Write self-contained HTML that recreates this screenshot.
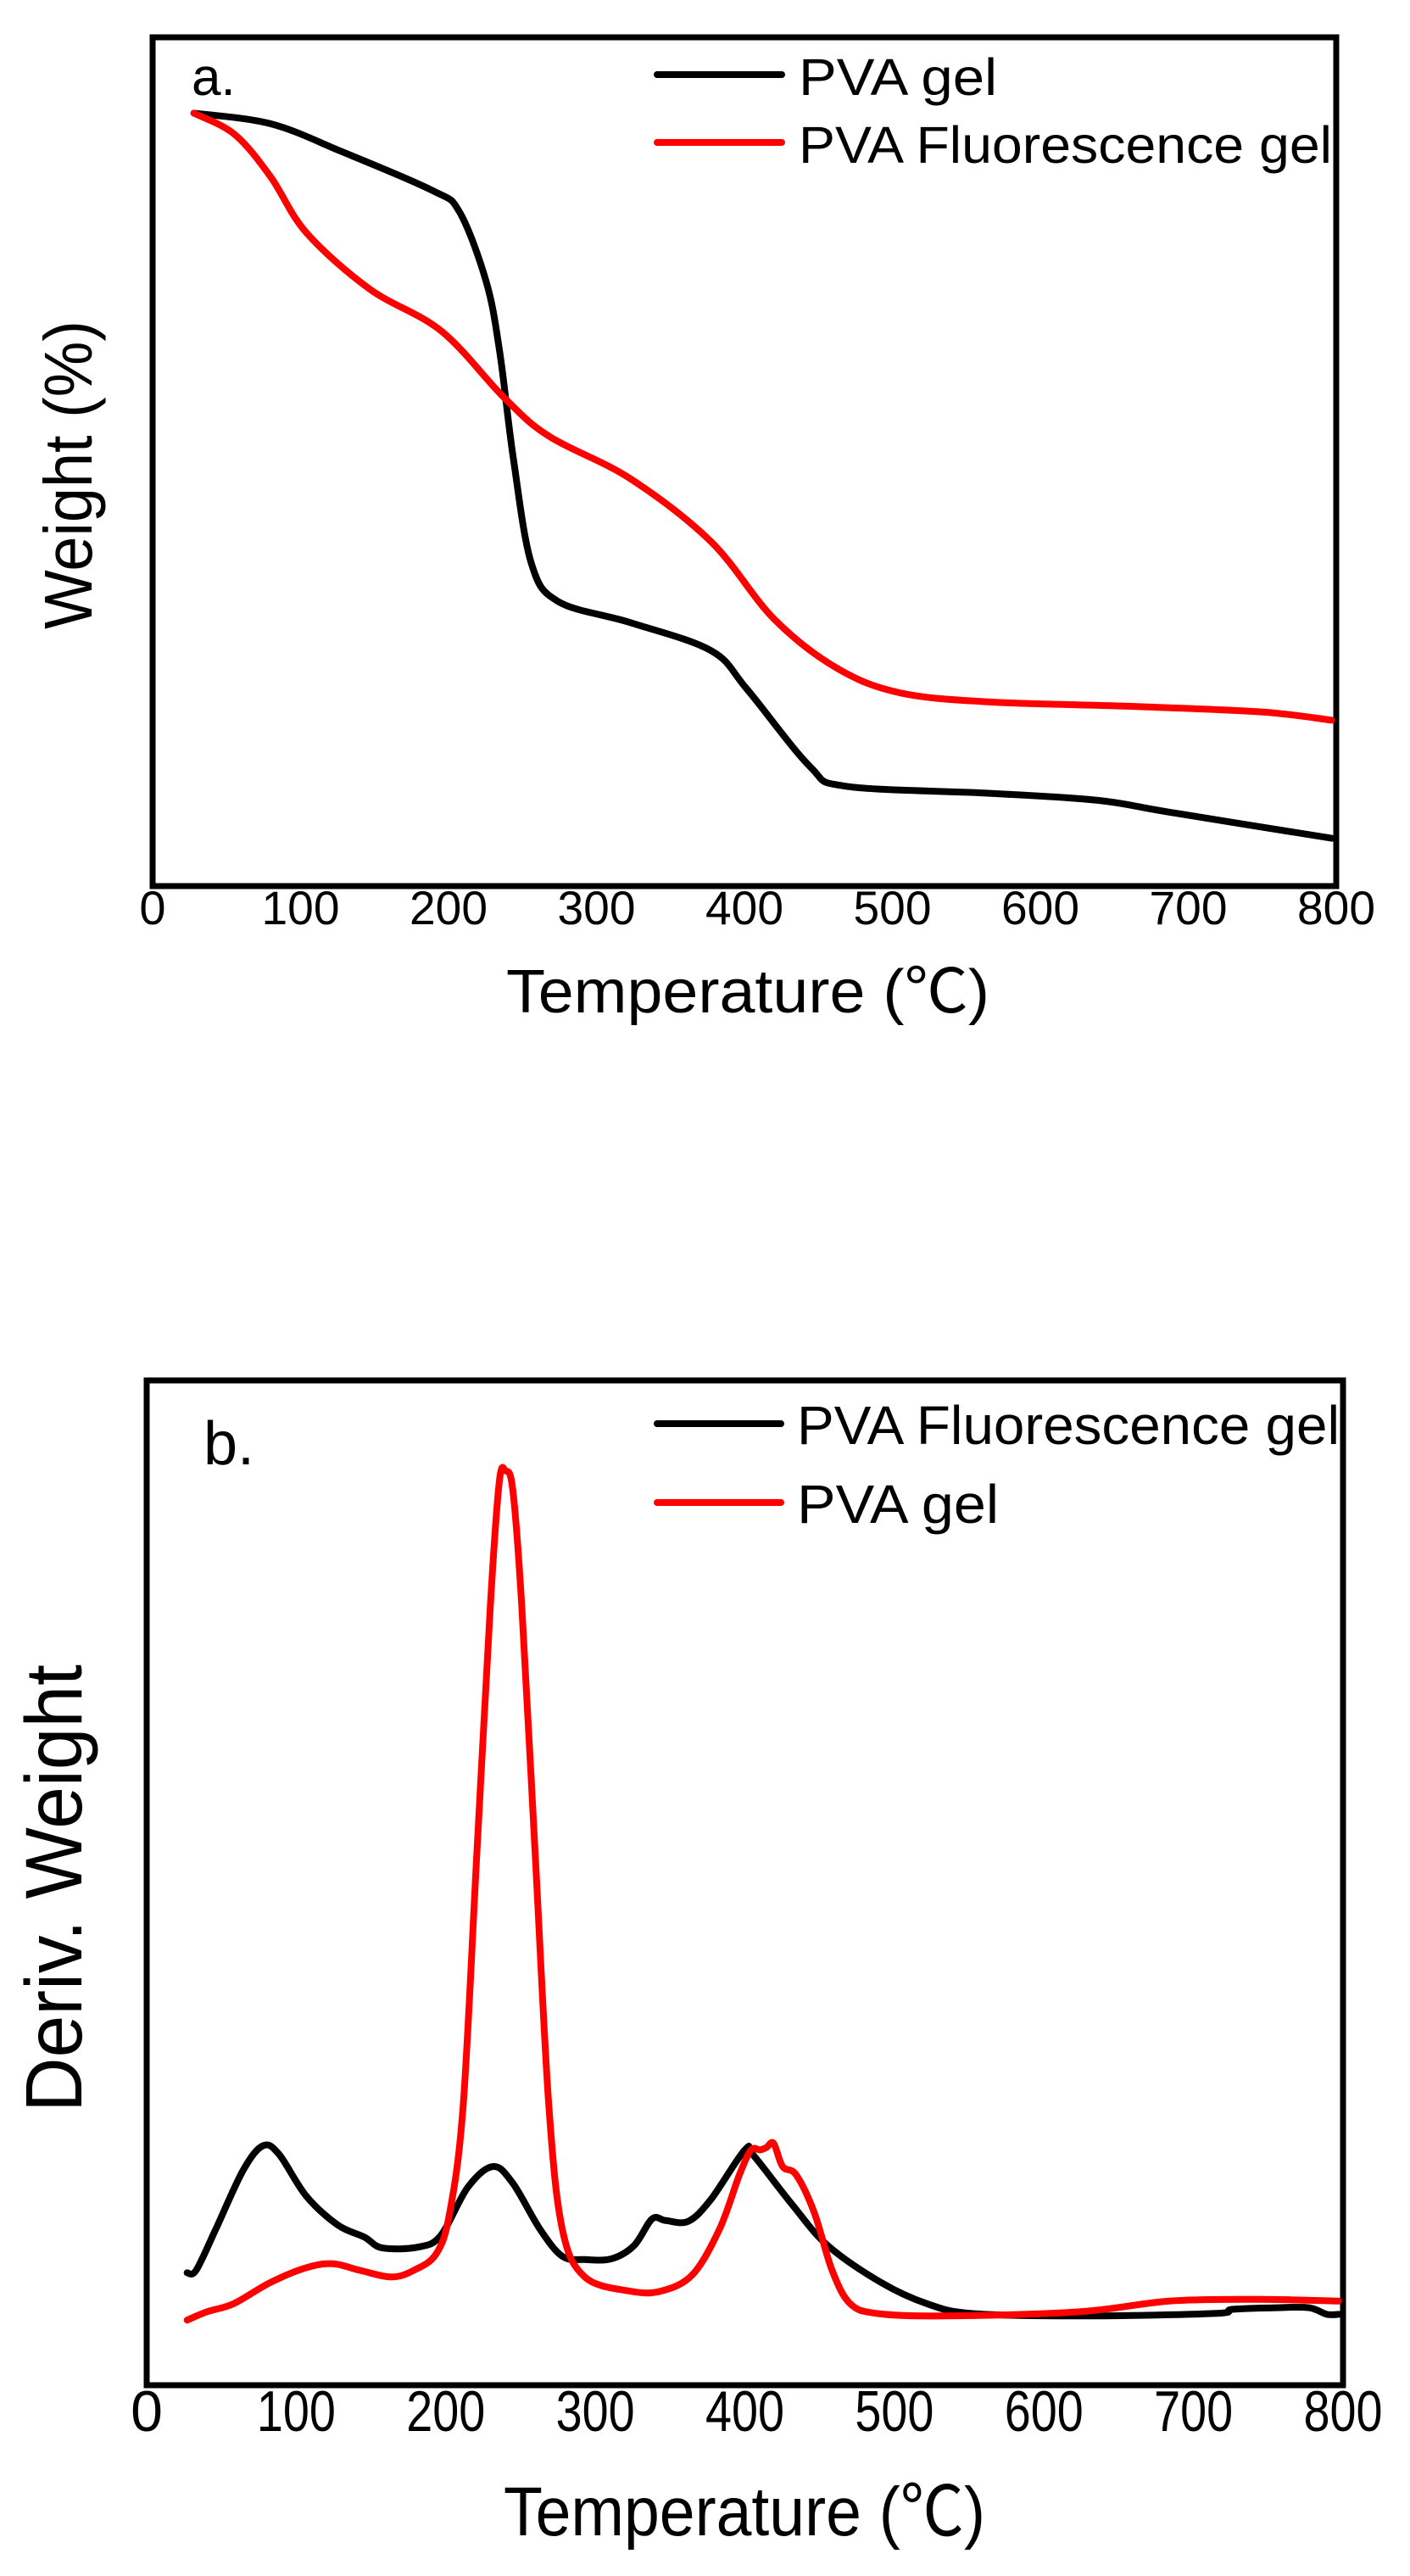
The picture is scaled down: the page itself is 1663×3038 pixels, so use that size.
<!DOCTYPE html>
<html><head><meta charset="utf-8"><style>
html,body{margin:0;padding:0;background:#fff}
svg{display:block}
text{font-family:"Liberation Sans","Noto Sans CJK SC",sans-serif;fill:#000}
</style></head><body>
<svg id="s" width="1663" height="3038" viewBox="0 0 1663 3038" xmlns="http://www.w3.org/2000/svg">
<rect width="1663" height="3038" fill="#fff"/>
<!-- Chart a -->
<rect x="180" y="44" width="1396" height="1001" fill="none" stroke="#000" stroke-width="7"/>
<text x="226" y="112" font-size="62">a.</text>
<line x1="775" y1="88" x2="922" y2="88" stroke="#000" stroke-width="8" stroke-linecap="round"/>
<line x1="775" y1="168" x2="922" y2="168" stroke="#f00" stroke-width="8" stroke-linecap="round"/>
<text x="942" y="112" font-size="61" textLength="234" lengthAdjust="spacingAndGlyphs">PVA gel</text>
<text x="942" y="192" font-size="61" textLength="629" lengthAdjust="spacingAndGlyphs">PVA Fluorescence gel</text>
<g id="ta" font-size="56" text-anchor="middle"></g>
<text x="597" y="1194" font-size="72" textLength="570" lengthAdjust="spacingAndGlyphs">Temperature (℃)</text>
<text transform="translate(108,560) rotate(-90)" font-size="80" text-anchor="middle" textLength="364" lengthAdjust="spacingAndGlyphs">Weight (%)</text>
<path id="ab" fill="none" stroke="#000" stroke-width="8" stroke-linecap="round" stroke-linejoin="round"/>
<path id="ar" fill="none" stroke="#f00" stroke-width="8" stroke-linecap="round" stroke-linejoin="round"/>
<!-- Chart b -->
<rect x="173" y="1628" width="1411" height="1185" fill="none" stroke="#000" stroke-width="7"/>
<text x="240" y="1727" font-size="72">b.</text>
<line x1="775" y1="1679" x2="921" y2="1679" stroke="#000" stroke-width="8" stroke-linecap="round"/>
<line x1="775" y1="1772" x2="921" y2="1772" stroke="#f00" stroke-width="8" stroke-linecap="round"/>
<text x="940" y="1703" font-size="64" textLength="640" lengthAdjust="spacingAndGlyphs">PVA Fluorescence gel</text>
<text x="940" y="1796" font-size="64" textLength="238" lengthAdjust="spacingAndGlyphs">PVA gel</text>
<g id="tb" font-size="68" text-anchor="middle"></g>
<text x="594" y="2990" font-size="82" textLength="568" lengthAdjust="spacingAndGlyphs">Temperature (℃)</text>
<text transform="translate(96,2227) rotate(-90)" font-size="95" text-anchor="middle" textLength="528" lengthAdjust="spacingAndGlyphs">Deriv. Weight</text>
<path id="bb" fill="none" stroke="#000" stroke-width="8" stroke-linecap="round" stroke-linejoin="round"/>
<path id="br" fill="none" stroke="#f00" stroke-width="8" stroke-linecap="round" stroke-linejoin="round"/>
</svg>
<script>
function cr(p){var d="M"+p[0][0].toFixed(1)+","+p[0][1].toFixed(1);
for(var i=0;i<p.length-1;i++){var p0=p[i-1]||p[i],p1=p[i],p2=p[i+1],p3=p[i+2]||p2;
var c1=[p1[0]+(p2[0]-p0[0])/6,p1[1]+(p2[1]-p0[1])/6],c2=[p2[0]-(p3[0]-p1[0])/6,p2[1]-(p3[1]-p1[1])/6];
d+="C"+c1[0].toFixed(1)+","+c1[1].toFixed(1)+" "+c2[0].toFixed(1)+","+c2[1].toFixed(1)+" "+p2[0].toFixed(1)+","+p2[1].toFixed(1);}return d;}
function mapA(a){return a.map(function(q){return [181+(q[0]-170)*1.0608,44+(q[1]-52)*0.8286];});}
function mapB(a){return a.map(function(q){return [0.07+q[0]*1.0609,1502.7+q[1]*0.979];});}
var ab=[[215,160],[300,175],[380,215],[480,270],[510,300],[540,400],[555,500],[570,650],[590,800],[620,855],[700,885],[790,925],[830,980],[900,1090],[940,1118],[1100,1128],[1220,1138],[1300,1155],[1480,1192]];
var ar=[[215,160],[260,190],[300,250],[340,330],[410,410],[490,470],[560,565],[610,620],[700,680],[790,770],[860,880],[930,950],[1000,985],[1100,998],[1250,1004],[1400,1012],[1480,1024]];
var bb=[[208,1203],[218,1200],[240,1150],[270,1080],[292,1050],[310,1060],[340,1110],[375,1145],[405,1160],[425,1173],[465,1172],[490,1158],[520,1100],[548,1075],[570,1095],[600,1150],[625,1183],[650,1187],[680,1186],[705,1170],[725,1138],[740,1140],[765,1141],[790,1115],[828,1055],[838,1062],[880,1120],[920,1170],[980,1215],[1030,1240],[1080,1252],[1200,1255],[1350,1252],[1370,1247],[1420,1245],[1455,1245],[1475,1253],[1488,1253]];
var br=[[208,1260],[230,1250],[260,1240],[300,1215],[340,1197],[370,1192],[400,1200],[435,1208],[460,1200],[485,1180],[500,1130],[515,1000],[530,700],[545,400],[555,250],[562,237],[570,260],[580,400],[595,700],[610,1000],[625,1150],[650,1208],[700,1225],[735,1225],[770,1205],[800,1150],[822,1085],[835,1055],[845,1055],[852,1052],[860,1047],[870,1075],[885,1085],[905,1130],[925,1200],[945,1240],[975,1252],[1050,1255],[1200,1250],[1300,1237],[1400,1235],[1488,1237]];
document.getElementById("ab").setAttribute("d",cr(mapA(ab)));
document.getElementById("ar").setAttribute("d",cr(mapA(ar)));
document.getElementById("bb").setAttribute("d",cr(mapB(bb)));
document.getElementById("br").setAttribute("d",cr(mapB(br)));
var NS="http://www.w3.org/2000/svg";
function ticks(id,x0,x1,y,w){var g=document.getElementById(id);for(var v=0;v<=800;v+=100){var t=document.createElementNS(NS,"text");t.setAttribute("x",x0+(x1-x0)*v/800);t.setAttribute("y",y);if(v>0){t.setAttribute("textLength",w);t.setAttribute("lengthAdjust","spacingAndGlyphs");}t.textContent=v;g.appendChild(t);}}
ticks("ta",180,1576,1090,92);
ticks("tb",173,1584,2867,93);
</script>
</body></html>
